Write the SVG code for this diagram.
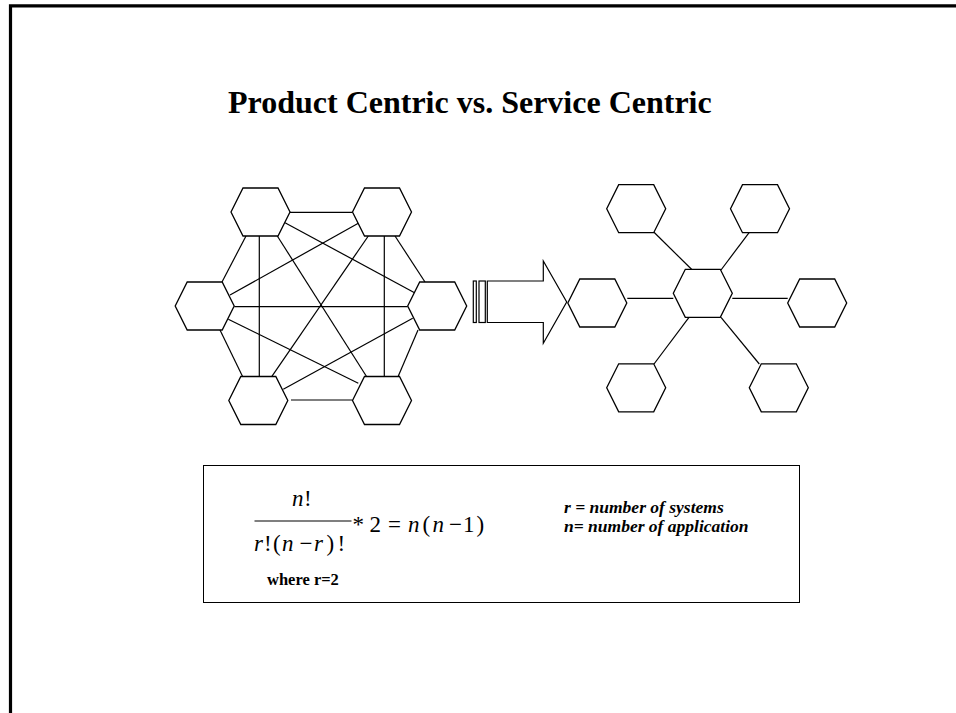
<svg xmlns="http://www.w3.org/2000/svg" xmlns:xlink="http://www.w3.org/1999/xlink" width="956" height="713" viewBox="0 0 956 713">
<style>
.hex{fill:#fff;stroke:#000;stroke-width:1.3}
.con line{stroke:#000;stroke-width:1.2}
.ser{font-family:"Liberation Serif","Times New Roman",serif;fill:#000}
.m text{font-family:"Liberation Serif","Times New Roman",serif;font-size:23px;fill:#000}
.m text.it{font-style:italic}
</style>
<defs>
<polygon id="hx" points="-29.5,0 -17.5,-24 17.5,-24 29.5,0 17.5,24 -17.5,24"/>
</defs>
<rect width="956" height="713" fill="#fff"/>
<path d="M10.5,713 V5.8 H956" fill="none" stroke="#000" stroke-width="3.2"/>
<text class="ser" x="228" y="113.3" font-size="32" font-weight="bold">Product Centric vs. Service Centric</text>

<g id="connectors" class="con">
<line x1="290" y1="212.3" x2="352.3" y2="212.3"/>
<line x1="246" y1="236" x2="222" y2="282" stroke-width="1.8"/>
<line x1="395" y1="236" x2="425" y2="282" stroke-width="1.8"/>
<line x1="220" y1="330" x2="242.7" y2="376.7"/>
<line x1="418" y1="330" x2="398" y2="376.7"/>
<line x1="291" y1="400" x2="352.3" y2="400"/>
<line x1="259.3" y1="236" x2="259.3" y2="376.7"/>
<line x1="384.3" y1="236" x2="384.3" y2="376.7"/>
<line x1="234.3" y1="306.7" x2="407.7" y2="306.7"/>
<line x1="285" y1="222.7" x2="415" y2="293"/>
<line x1="277.3" y1="236" x2="366.7" y2="376.7"/>
<line x1="358.3" y1="223.3" x2="230" y2="295"/>
<line x1="368.3" y1="236" x2="271.7" y2="376.7"/>
<line x1="228.3" y1="319.3" x2="358.3" y2="383.3"/>
<line x1="412.7" y1="318.3" x2="283.3" y2="389.3"/>
<line x1="627.3" y1="298.3" x2="673.3" y2="298.3"/>
<line x1="732.3" y1="298.3" x2="787.7" y2="298.3"/>
<line x1="654" y1="232.3" x2="692.3" y2="270"/>
<line x1="749.3" y1="232.3" x2="721" y2="270"/>
<line x1="654" y1="364" x2="689" y2="317.3"/>
<line x1="759.3" y1="364" x2="721" y2="317.3"/>
</g>

<g id="mesh-tl"><use xlink:href="#hx" class="hex" x="260.5" y="212" stroke-width="1.7"/></g>
<g id="mesh-tr"><use xlink:href="#hx" class="hex" x="382" y="212"/></g>
<g id="mesh-l"><use xlink:href="#hx" class="hex" x="204.7" y="306"/></g>
<g id="mesh-r"><use xlink:href="#hx" class="hex" x="437.2" y="306"/></g>
<g id="mesh-bl"><use xlink:href="#hx" class="hex" x="258.3" y="400.5"/></g>
<g id="mesh-br"><use xlink:href="#hx" class="hex" x="382" y="400.5" stroke-width="1.7"/></g>

<g id="arrow" fill="#fff" stroke="#000" stroke-width="1.2">
<rect x="473.3" y="281" width="3" height="41.5"/>
<rect x="479" y="281" width="6.3" height="41.5"/>
<polygon points="487.3,281 543.3,281 543.3,261 566.7,302 543.3,343.3 543.3,322.5 487.3,322.5"/>
</g>

<g id="star-l"><use xlink:href="#hx" class="hex" x="597.3" y="303"/></g>
<g id="star-c"><use xlink:href="#hx" class="hex" x="702.8" y="293.3"/></g>
<g id="star-tl"><use xlink:href="#hx" class="hex" x="636.2" y="208.7"/></g>
<g id="star-tr"><use xlink:href="#hx" class="hex" x="760" y="208.7"/></g>
<g id="star-r"><use xlink:href="#hx" class="hex" x="817.2" y="303"/></g>
<g id="star-bl"><use xlink:href="#hx" class="hex" x="636.2" y="387.8"/></g>
<g id="star-br"><use xlink:href="#hx" class="hex" x="778.8" y="387.8"/></g>

<g id="formula-box">
<rect x="203.5" y="465.5" width="596" height="137" fill="none" stroke="#000" stroke-width="1"/>
<g class="m">
<text class="it" x="292" y="506">n</text>
<text x="304" y="506">!</text>
<line x1="254.5" y1="521" x2="351.5" y2="521" stroke="#000" stroke-width="1.2"/>
<text class="it" x="254" y="551">r</text>
<text x="264" y="551">!</text>
<text x="273" y="551">(</text>
<text class="it" x="282" y="551">n</text>
<text x="299.5" y="551">−</text>
<text class="it" x="314" y="551">r</text>
<text x="326.5" y="551">)</text>
<text x="337.5" y="551">!</text>
<text x="352.5" y="531.5">*</text>
<text x="369.5" y="531.5">2</text>
<text x="388" y="531.5">=</text>
<text class="it" x="408" y="531.5">n</text>
<text x="422.5" y="531.5">(</text>
<text class="it" x="432.5" y="531.5">n</text>
<text x="449" y="531.5">−</text>
<text x="463" y="531.5">1</text>
<text x="476.5" y="531.5">)</text>
</g>
<text class="ser" x="267" y="585" font-size="16.5" font-weight="bold">where r=2</text>
<text class="ser" font-size="17.5" font-weight="bold" font-style="italic"><tspan x="564" y="513">r = number of systems</tspan><tspan x="564" y="532">n= number of application</tspan></text>
</g>
</svg>
